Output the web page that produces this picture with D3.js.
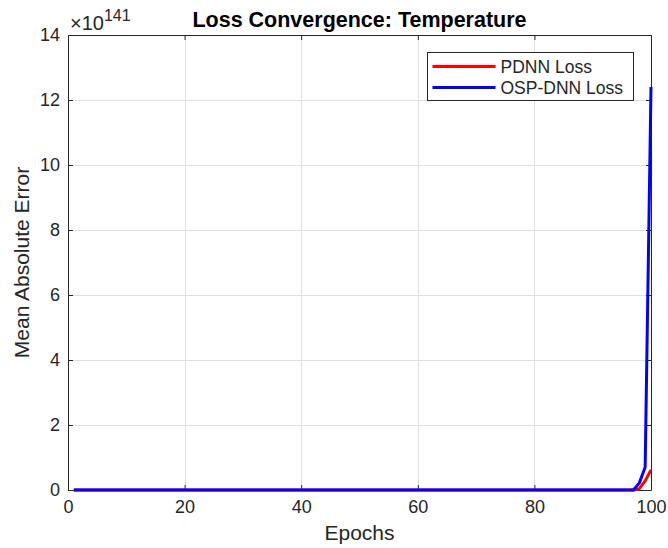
<!DOCTYPE html>
<html>
<head>
<meta charset="utf-8">
<script src="https://cdn.jsdelivr.net/npm/d3@7"></script>
<style>
  body { margin: 0; background: #fff; }
  text { font-family: "Liberation Sans", Arial, sans-serif; fill: #262626; }
</style>
</head>
<body>
<div id="chart"></div>
<script>
// epochs 1..100
const epochs = d3.range(1, 101);

// loss values (real units); almost flat at this scale until the last few epochs
const pdnnLoss = [
  0, 0, 0, 0, 0, 0, 0, 0, 0, 0,
  0, 0, 0, 0, 0, 0, 0, 0, 0, 0,
  0, 0, 0, 0, 0, 0, 0, 0, 0, 0,
  0, 0, 0, 0, 0, 0, 0, 0, 0, 0,
  0, 0, 0, 0, 0, 0, 0, 0, 0, 0,
  0, 0, 0, 0, 0, 0, 0, 0, 0, 0,
  0, 0, 0, 0, 0, 0, 0, 0, 0, 0,
  0, 0, 0, 0, 0, 0, 0, 0, 0, 0,
  0, 0, 0, 0, 0, 0, 0, 0, 0, 0,
  0, 0, 0, 0, 0, 0, 0, 0.04e141, 0.28e141, 0.62e141
];
const ospLoss = [
  0, 0, 0, 0, 0, 0, 0, 0, 0, 0,
  0, 0, 0, 0, 0, 0, 0, 0, 0, 0,
  0, 0, 0, 0, 0, 0, 0, 0, 0, 0,
  0, 0, 0, 0, 0, 0, 0, 0, 0, 0,
  0, 0, 0, 0, 0, 0, 0, 0, 0, 0,
  0, 0, 0, 0, 0, 0, 0, 0, 0, 0,
  0, 0, 0, 0, 0, 0, 0, 0, 0, 0,
  0, 0, 0, 0, 0, 0, 0, 0, 0, 0,
  0, 0, 0, 0, 0, 0, 0, 0, 0, 0,
  0, 0, 0, 0, 0, 0, 0, 0.22e141, 0.7e141, 12.4e141
];

const xTicks = [0, 20, 40, 60, 80, 100];
const yTicks = [0, 2, 4, 6, 8, 10, 12, 14];
const exponent = 141;

const series = [
  { name: "PDNN Loss", color: "#ff0000", values: pdnnLoss },
  { name: "OSP-DNN Loss", color: "#0000ff", values: ospLoss }
];

const width = 668, height = 548;
const mLeft = 68, mRight = 651, mTop = 35, mBottom = 490;
const unit = Math.pow(10, exponent);

const svg = d3.select("#chart")
  .append("svg")
  .attr("width", width)
  .attr("height", height);

const x = d3.scaleLinear().domain([0, 100]).range([mLeft, mRight]);
const y = d3.scaleLinear().domain([0, 14 * unit]).range([mBottom, mTop]);

// grid
const grid = svg.append("g").attr("stroke", "#e0e0e0").attr("stroke-width", 1);
grid.selectAll(".gx").data(xTicks).enter().append("line")
  .attr("x1", (d) => Math.round(x(d)) + 0.5).attr("x2", (d) => Math.round(x(d)) + 0.5)
  .attr("y1", mTop).attr("y2", mBottom);
grid.selectAll(".gy").data(yTicks).enter().append("line")
  .attr("y1", (d) => Math.round(y(d * unit)) + 0.5).attr("y2", (d) => Math.round(y(d * unit)) + 0.5)
  .attr("x1", mLeft).attr("x2", mRight);

// axes
const xAxis = d3.axisBottom(x).tickValues(xTicks).tickSizeInner(-5).tickSizeOuter(0).tickPadding(10);
const yAxis = d3.axisLeft(y).tickValues(yTicks.map((d) => d * unit))
  .tickFormat((d) => Math.round(d / unit))
  .tickSizeInner(-5).tickSizeOuter(0).tickPadding(8);

const gx = svg.append("g").attr("transform", `translate(0,${mBottom})`).call(xAxis);
const gy = svg.append("g").attr("transform", `translate(${mLeft},0)`).call(yAxis);
[gx, gy].forEach((g) => {
  g.selectAll("path").attr("stroke", "#262626");
  g.selectAll("line").attr("stroke", "#262626");
  g.selectAll("text").attr("font-size", 18).style("font-family", "Liberation Sans, Arial, sans-serif").attr("fill", "#262626");
});

// top and right ticks / box
const gt = svg.append("g").attr("transform", `translate(0,${mTop})`)
  .call(d3.axisTop(x).tickValues(xTicks).tickSizeInner(-5).tickSizeOuter(0).tickFormat(""));
const gr = svg.append("g").attr("transform", `translate(${mRight},0)`)
  .call(d3.axisRight(y).tickValues(yTicks.map((d) => d * unit)).tickSizeInner(-5).tickSizeOuter(0).tickFormat(""));
[gt, gr].forEach((g) => {
  g.selectAll("path").attr("stroke", "#262626");
  g.selectAll("line").attr("stroke", "#262626");
});

// lines
const line = d3.line()
  .x((d, i) => x(epochs[i]))
  .y((d) => y(d));

svg.append("g").selectAll("path")
  .data(series)
  .enter().append("path")
  .attr("fill", "none")
  .attr("stroke", (d) => d.color)
  .attr("stroke-width", 3)
  .attr("stroke-linejoin", "round")
  .attr("d", (d) => line(d.values));

// exponent label
const ex = svg.append("text").attr("x", mLeft + 2).attr("y", 30).attr("font-size", 20);
ex.append("tspan").text("\u00d710");
ex.append("tspan").attr("font-size", 16).attr("dy", -9).text(exponent);

// title
svg.append("text")
  .attr("x", (mLeft + mRight) / 2).attr("y", 27)
  .attr("text-anchor", "middle")
  .attr("font-size", 21.5).attr("font-weight", "bold")
  .style("fill", "#000")
  .text("Loss Convergence: Temperature");

// axis labels
svg.append("text")
  .attr("x", (mLeft + mRight) / 2).attr("y", 540)
  .attr("text-anchor", "middle")
  .attr("font-size", 21)
  .text("Epochs");
svg.append("text")
  .attr("transform", `translate(29,${(mTop + mBottom) / 2}) rotate(-90)`)
  .attr("text-anchor", "middle")
  .attr("font-size", 21)
  .text("Mean Absolute Error");

// legend
const legend = svg.append("g").attr("transform", "translate(427.5,52.5)");
legend.append("rect")
  .attr("width", 206).attr("height", 48)
  .attr("fill", "#fff").attr("stroke", "#262626");
const items = legend.selectAll("g.item").data(series).enter().append("g")
  .attr("transform", (d, i) => `translate(0,${14 + i * 21})`);
items.append("line")
  .attr("x1", 5).attr("x2", 68)
  .attr("stroke", (d) => d.color).attr("stroke-width", 3);
items.append("text")
  .attr("x", 73).attr("y", 6)
  .attr("font-size", 17.5)
  .text((d) => d.name);
</script>
</body>
</html>
